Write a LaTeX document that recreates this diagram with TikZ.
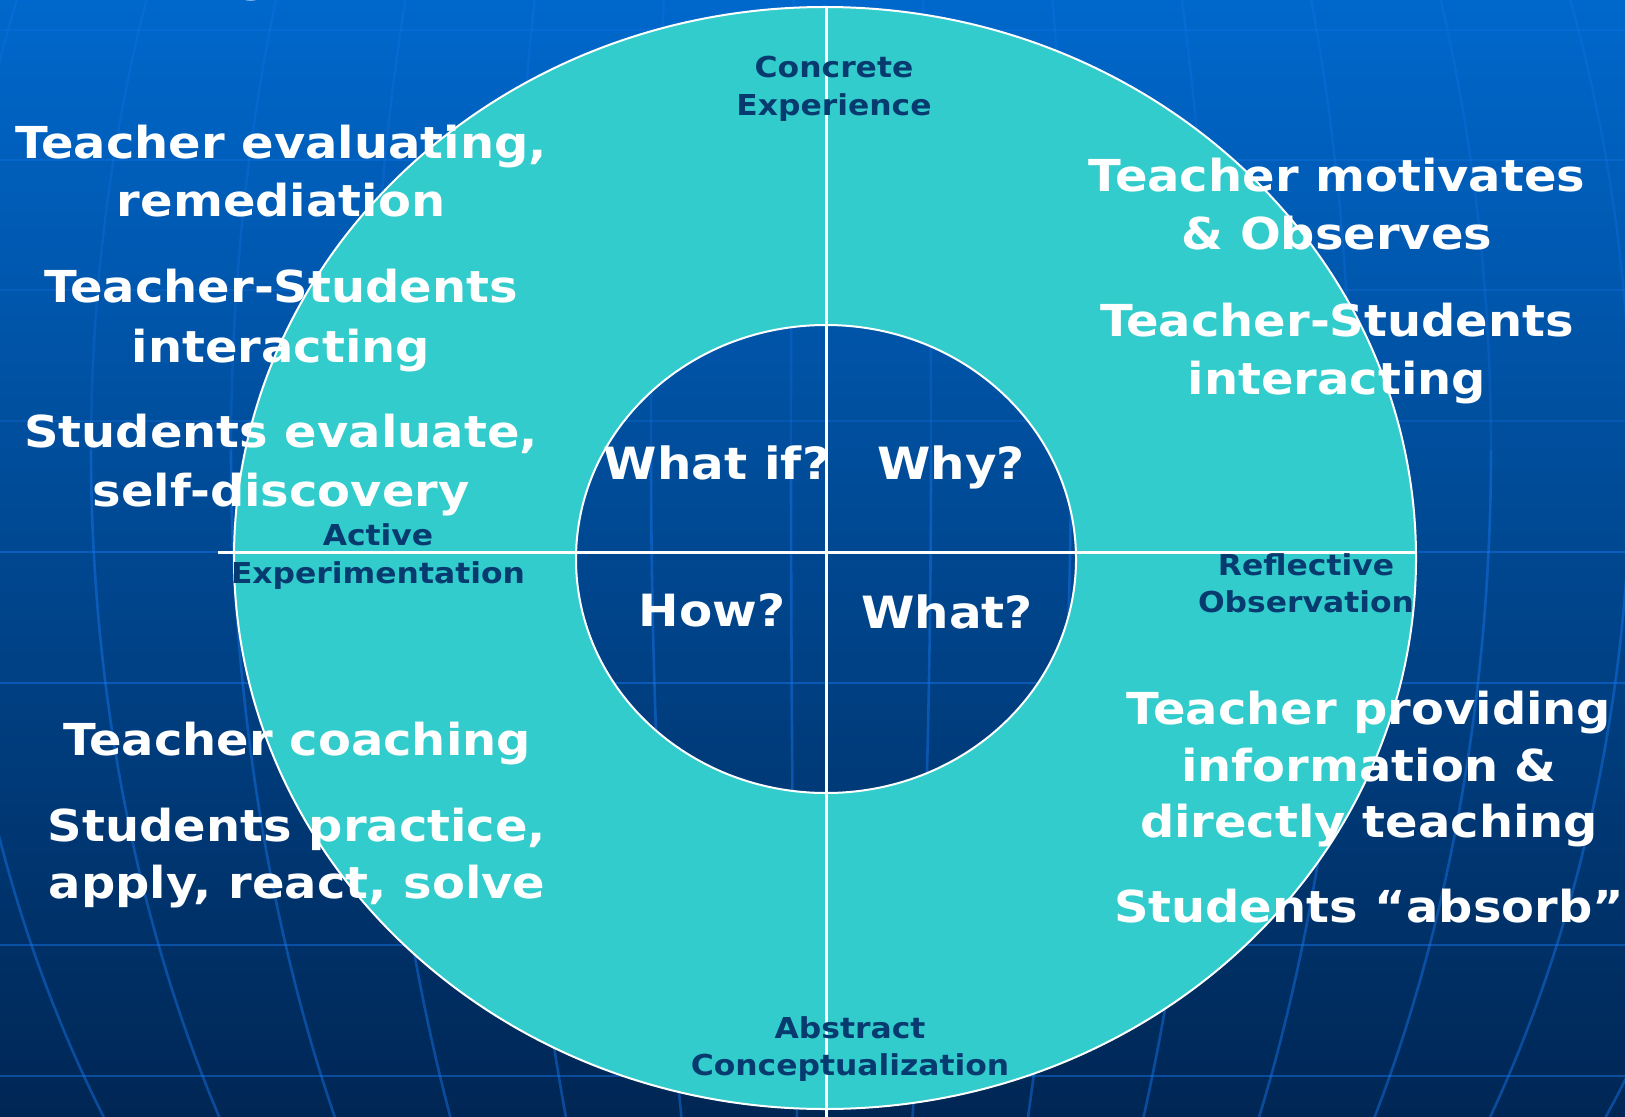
\documentclass[tikz,border=0pt]{standalone}
\usepackage{fontspec}
\newfontfamily\slidefont{DejaVu Sans}[FakeStretch=1.09]
\definecolor{teal1}{HTML}{33CCCC}
\definecolor{navy}{HTML}{073A6F}
\definecolor{bgtop}{HTML}{0068CC}
\definecolor{bgbot}{HTML}{002654}
\definecolor{gridc}{HTML}{1878F0}
\tikzset{
  gridline/.style={draw=gridc, opacity=0.45, line width=1.3pt},
  gridfaint/.style={draw=gridc, opacity=0.25, line width=1.2pt},
  ring/.style={draw=white, line width=1pt},
  axis/.style={draw=white, line width=1.5pt},
  big/.style={text=white, anchor=base, inner sep=0pt, font=\slidefont\bfseries\fontsize{22}{28.5}\selectfont},
  quest/.style={text=white, anchor=base, inner sep=0pt, font=\slidefont\bfseries\fontsize{22.2}{28}\selectfont},
  lbl/.style={text=navy, anchor=base, inner sep=0pt, font=\slidefont\bfseries\fontsize{14.4}{18.5}\selectfont}
}
\begin{document}
\begin{tikzpicture}[x=0.5pt,y=-0.5pt]
\useasboundingbox (0,0) rectangle (1625,1117);
% background
\shade[top color=bgtop, bottom color=bgbot] (0,0) rectangle (1625,1117);
% globe grid
\foreach \yy in {30,160,290,421}
  \draw[gridfaint] (0,\yy) -- (1625,\yy);
\foreach \yy in {552,683,945,1076}
  \draw[gridline] (0,\yy) -- (1625,\yy);
\foreach \k in {-7,...,7} {
  \pgfmathsetmacro\aa{-34+140*\k}
  \draw[gridfaint] plot[domain=0:450, samples=20, smooth, variable=\t]
    ({825+\aa*sqrt(1-((\t-450)/1181)^2)}, \t);
  \draw[gridline] plot[domain=450:1117, samples=30, smooth, variable=\t]
    ({825+\aa*sqrt(1-((\t-450)/1181)^2)}, \t);
}
% partial title glyph at the top edge
\node[big] (gfrag) at (254,-8) {g};
% ring
\path[fill=teal1, even odd rule]
  (825,558) ellipse [x radius=295.5pt, y radius=275.5pt]
  (826,559) ellipse [x radius=125pt, y radius=117pt];
\draw[ring] (825,558) ellipse [x radius=295.5pt, y radius=275.5pt];
\draw[ring] (826,559) ellipse [x radius=125pt, y radius=117pt];
% axes
\coordinate (vtop) at (826,7);
\coordinate (vbot) at (826,1117);
\coordinate (hleft) at (218,552);
\coordinate (hright) at (1416,552);
\draw[axis] (vtop) -- (vbot);
\draw[axis] (hleft) -- (hright);
% quadrant labels
\node[lbl] (ce1) at (834,78) {Concrete};
\node[lbl] (ce2) at (834,116) {Experience};
\node[lbl] (ae1) at (378,545) {Active};
\node[lbl] (ae2) at (378,583) {Experimentation};
\node[lbl] (ro1) at (1306,575) {Reflective};
\node[lbl] (ro2) at (1306,612) {Observation};
\node[lbl] (ac1) at (850,1038) {Abstract};
\node[lbl] (ac2) at (850,1075) {Conceptualization};
% questions
\node[quest] (q1) at (717,479) {What if?};
\node[quest] (q2) at (951,479) {Why?};
\node[quest] (q3) at (712,626) {How?};
\node[quest] (q4) at (947,628) {What?};
% left texts
\node[big] (l1a) at (281,159) {Teacher evaluating,};
\node[big] (l1b) at (281,217) {remediation};
\node[big] (l2a) at (281,303) {Teacher-Students};
\node[big] (l2b) at (281,362) {interacting};
\node[big] (l3a) at (281,447) {Students evaluate,};
\node[big] (l3b) at (281,506) {self-discovery};
\node[big] (l4) at (297,755) {Teacher coaching};
\node[big] (l5a) at (297,841) {Students practice,};
\node[big] (l5b) at (297,898) {apply, react, solve};
% right texts
\node[big] (r1a) at (1337,192) {Teacher motivates};
\node[big] (r1b) at (1337,250) {\& Observes};
\node[big] (r2a) at (1337,336) {Teacher-Students};
\node[big] (r2b) at (1337,394) {interacting};
\node[big] (r3a) at (1369,724) {Teacher providing};
\node[big] (r3b) at (1369,781) {information \&};
\node[big] (r3c) at (1369,837) {directly teaching};
\node[big] (r4) at (1369,922) {Students “absorb”};
\end{tikzpicture}
\end{document}
